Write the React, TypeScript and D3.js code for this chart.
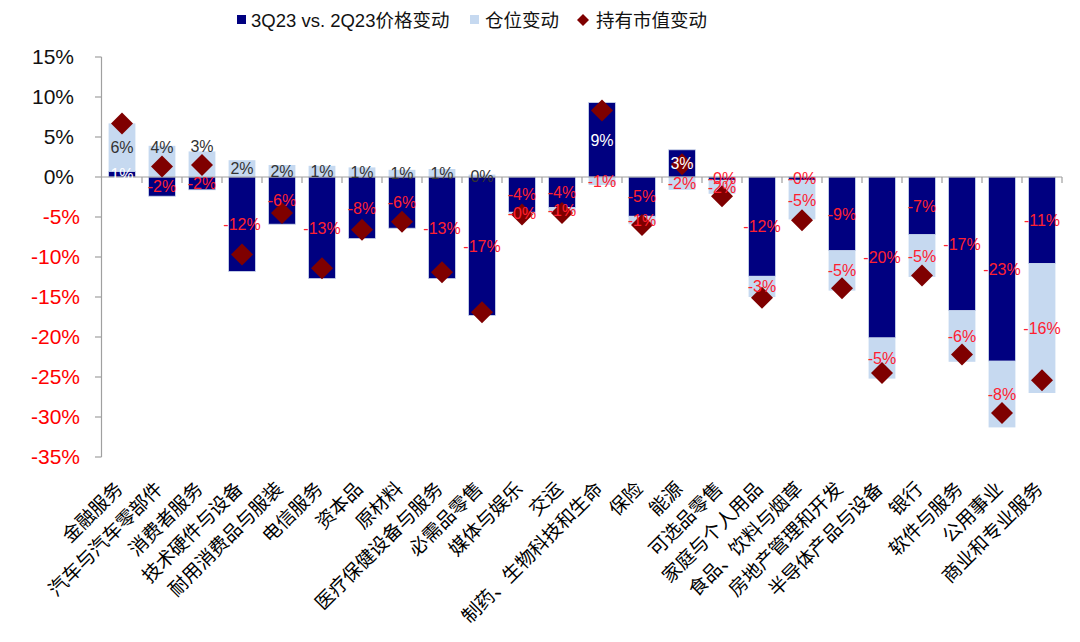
import React from 'react';
import * as d3 from 'd3';

const categories = ['金融服务','汽车与汽车零部件','消费者服务','技术硬件与设备','耐用消费品与服装','电信服务','资本品','原材料','医疗保健设备与服务','必需品零售','媒体与娱乐','交运','制药、生物科技和生命','保险','能源','可选品零售','家庭与个人用品','食品、饮料与烟草','房地产管理和开发','半导体产品与设备','银行','软件与服务','公用事业','商业和专业服务'];
const priceChange = [0.7, -2.4, -1.6, -11.8, -5.9, -12.7, -7.7, -6.4, -12.7, -17.3, -4.4, -3.8, 9.3, -4.9, 3.4, -0.4, -12.4, -0.4, -9.2, -20.1, -7.2, -16.7, -23.0, -10.8];
const positionChange = [6.0, 3.9, 3.2, 2.1, 1.5, 1.4, 1.2, 0.9, 1.0, 0.3, -0.3, -0.6, -1.0, -1.0, -1.6, -1.7, -2.6, -4.9, -5.0, -5.1, -5.3, -6.4, -8.3, -16.2];
const holdingChange = [6.7, 1.3, 1.5, -9.7, -4.5, -11.4, -6.6, -5.6, -11.9, -16.9, -4.7, -4.5, 8.3, -6.0, 1.6, -2.4, -15.1, -5.4, -13.9, -24.5, -12.3, -22.2, -29.5, -25.4];
const yTicks = [15, 10, 5, 0, -5, -10, -15, -20, -25, -30, -35];
const legendLabels = ['3Q23 vs. 2Q23价格变动', '仓位变动', '持有市值变动'];

const NAVY = '#000080';
const LIGHT = '#C6D9F0';
const MAROON = '#7F0000';
const RED = '#FF2030';
const AXIS = '#A0A0A0';
const FONT = "'Liberation Sans', Arial, 'Noto Sans CJK SC', sans-serif";

const fmt = (v: number) => (v < 0 ? '-' : '') + Math.round(Math.abs(v)) + '%';

export default function App() {
  const W = 1080, H = 642;
  const left = 102, right = 1062;
  const x = d3.scaleBand<string>().domain(categories).range([left, right]).paddingInner(0.33).paddingOuter(0.165);
  const xb = d3.scaleBand<string>().domain(categories).range([left, right]).padding(0);
  const y = d3.scaleLinear().domain([-35, 15]).range([457, 57]);
  const y0 = y(0);
  const bw = x.bandwidth();
  const R = 11;

  const segs: any[] = [];
  categories.forEach((c, i) => {
    let pos = 0, neg = 0;
    const items = [
      { v: priceChange[i], fill: NAVY, kind: 'price' },
      { v: positionChange[i], fill: LIGHT, kind: 'pos' },
    ];
    items.forEach((it) => {
      let a, b;
      if (it.v >= 0) { a = pos; b = pos + it.v; pos = b; } else { a = neg; b = neg + it.v; neg = b; }
      let ly = y((a + b) / 2);
      // dark positive position labels are lifted above the diamond if they would sit on it
      if (it.kind === 'pos' && it.v > 0) {
        const dy = y(holdingChange[i]);
        if (Math.abs(ly - dy) < R + 6) ly = Math.min(ly, dy - R - 8);
      }
      segs.push({ c, i, a, b, ly, ...it });
    });
  });

  const labelColor = (s: any) => (s.v < 0 ? RED : s.kind === 'price' ? '#FFFFFF' : '#333333');

  return (
    <svg width={W} height={H} style={{ position: 'absolute', left: 0, top: 0, background: '#fff' }} fontFamily={FONT}>
      {/* bars */}
      {segs.map((s, k) => (
        <rect key={'r' + k} x={x(s.c)} width={bw} y={y(Math.max(s.a, s.b))} height={Math.abs(y(s.a) - y(s.b))}
          fill={s.fill} stroke={s.kind === 'price' ? '#C9D5EA' : 'none'} strokeWidth={0.8} />
      ))}
      {/* axes */}
      <line x1={left - 0.5} x2={left - 0.5} y1={y(15)} y2={y(-35)} stroke={AXIS} strokeWidth={1.2} />
      {yTicks.map((t) => (
        <g key={'yt' + t}>
          <line x1={left - 7} x2={left - 0.5} y1={y(t)} y2={y(t)} stroke={AXIS} strokeWidth={1.2} />
          <text x={t < 0 ? 80 : 74} y={y(t)} dy="0.35em" textAnchor="end" fontSize={21} fill={t < 0 ? '#FF0000' : '#111'}>
            {t + '%'}
          </text>
        </g>
      ))}
      <line x1={left - 0.5} x2={right} y1={y0} y2={y0} stroke={AXIS} strokeWidth={1.2} />
      {categories.map((c, i) => (
        <line key={'xt' + i} x1={(xb(c) as number) + xb.bandwidth()} x2={(xb(c) as number) + xb.bandwidth()} y1={y0} y2={y0 + 6} stroke={AXIS} strokeWidth={1.2} />
      ))}
      {/* diamonds */}
      {categories.map((c, i) => {
        const cx = (x(c) as number) + bw / 2;
        const cy = y(holdingChange[i]);
        return <path key={'d' + i} d={`M${cx},${cy - R}L${cx + R},${cy}L${cx},${cy + R}L${cx - R},${cy}Z`} fill={MAROON} />;
      })}
      {/* data labels */}
      {segs.map((s, k) => (
        <text key={'l' + k} x={(x(s.c) as number) + bw / 2} y={s.ly} dy="0.36em" textAnchor="middle"
          fontSize={16} fill={labelColor(s)}>
          {fmt(s.v)}
        </text>
      ))}
      {/* category labels */}
      {categories.map((c) => {
        const cx = (xb(c) as number) + xb.bandwidth() / 2 + 2;
        return (
          <text key={'cl' + c} transform={`translate(${cx},490) rotate(-45)`} textAnchor="end" fontSize={19} fill="#000">
            {c}
          </text>
        );
      })}
      {/* legend */}
      <g fontSize={18.5} fill="#111">
        <rect x={237} y={15} width={9} height={9} fill={NAVY} />
        <text x={251} y={20} dy="0.36em">{legendLabels[0]}</text>
        <rect x={470} y={15} width={9} height={9} fill={LIGHT} />
        <text x={485} y={20} dy="0.36em">{legendLabels[1]}</text>
        <path d="M583,14L589,20L583,26L577,20Z" fill={MAROON} />
        <text x={596} y={20} dy="0.36em">{legendLabels[2]}</text>
      </g>
    </svg>
  );
}
